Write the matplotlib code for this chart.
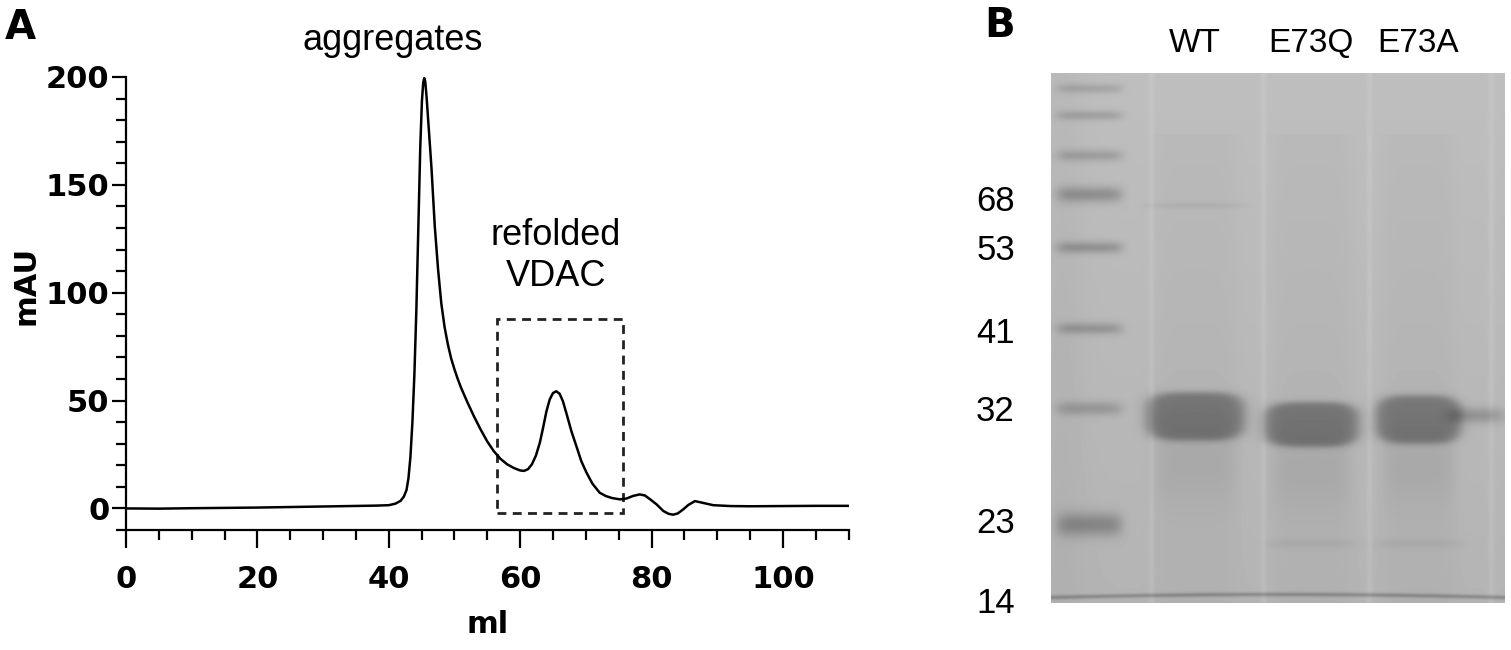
import numpy as np
import matplotlib
matplotlib.use("Agg")
import matplotlib.pyplot as plt
from matplotlib.patches import Rectangle
from matplotlib.ticker import MultipleLocator

# --- panel A: size exclusion chromatogram ---
elution_ml = [0, 5, 10, 20, 30, 38, 40, 41, 41.8, 42.3, 42.7, 43.0, 43.3, 43.6,
              43.9, 44.2, 44.5, 44.8, 45.05, 45.25, 45.4, 45.55, 45.75, 46.0,
              46.5, 47.0, 47.5, 48.0, 48.5, 49.0, 49.5, 50.0, 50.5, 51, 52, 53,
              54, 55, 56, 57, 58, 59, 60, 60.6, 61.2, 61.8, 62.4, 63, 63.5, 64,
              64.5, 65, 65.5, 66, 66.5, 67.1, 67.8, 68.6, 69.3, 70.1, 71, 72.1,
              73, 74, 75.2, 76.2, 77.2, 78.2, 79.0, 79.8, 80.8, 81.8, 82.6, 83.3,
              84.0, 84.8, 85.6, 86.6, 87.5, 89.4, 92, 95, 100, 105, 110]
absorbance_mau = [0, -0.1, 0.1, 0.4, 0.9, 1.3, 1.5, 2.2, 3.5, 5.5, 8.5, 14, 24, 40,
                  62, 92, 130, 168, 189, 197.5, 199.5, 198, 191, 180,
                  158, 131, 111, 95, 84, 76, 69.5, 64.5, 60, 56, 49, 42.5,
                  36.5, 31, 26.5, 23, 20.5, 18.8, 17.6, 17.4, 18.2, 20.5, 24.5, 30.5, 37.5, 45,
                  50.5, 53.5, 54.3, 53.2, 49.8, 43.5, 35.8, 28.5, 22, 16.6, 11.5, 7.3,
                  5.8, 4.8, 4.2, 4.6, 5.8, 6.5, 6.0, 4.2, 1.8, -1.2, -2.5, -2.9,
                  -2.3, -0.5, 1.6, 3.4, 2.8, 1.5, 1.1, 1.0, 1.1, 1.2, 1.2]
pool_ml = [56.5, 75.7]
pool_mau = [-2, 88]

# --- panel B: SDS gel ---
marker_kda = [68, 53, 41, 32, 23, 14]
marker_label_y = [125, 174, 257, 335, 447, 527]
ladder_band_y = [15, 42, 82, 121, 174, 255, 335, 451]
ladder_band_dark = [24, 28, 30, 44, 40, 36, 32, 48]
ladder_band_thick = [5, 5, 6, 8, 6, 6, 7, 12]
lane_names = ["WT", "E73Q", "E73A"]
lane_centers = [144, 260, 367]
lane_halfwidth = [53, 51, 46]
main_band_y = [343, 351, 346]
main_band_half = [26, 24, 26]
main_band_dark = [62, 62, 60]
lane_streak_x = [100, 212, 318, 440]

W, H = 454, 530

plt.rcParams['font.family'] = ['DejaVu Sans']
fig = plt.figure(figsize=(15.11, 6.5), dpi=100)

# ---------------- panel A ----------------
ax = fig.add_axes([126 / 1511, 1 - 530 / 650, 722.6 / 1511, 453 / 650])
ax.plot(elution_ml, absorbance_mau, color='black', lw=1.8, solid_joinstyle='round')
ax.add_patch(Rectangle((pool_ml[0], pool_mau[0]), pool_ml[1] - pool_ml[0],
                       pool_mau[1] - pool_mau[0], fill=False, ec='#222222',
                       lw=2.0, ls=(0, (3.2, 2.3))))
ax.set_xlim(0, 110)
ax.set_ylim(-10, 200)
ax.xaxis.set_major_locator(MultipleLocator(20))
ax.xaxis.set_minor_locator(MultipleLocator(5))
ax.yaxis.set_major_locator(MultipleLocator(50))
ax.yaxis.set_minor_locator(MultipleLocator(10))
for s in ['top', 'right']:
    ax.spines[s].set_visible(False)
for s in ['left', 'bottom']:
    ax.spines[s].set_linewidth(1.6)
ax.tick_params(axis='x', which='major', length=13, width=1.6, pad=12, labelsize=22)
ax.tick_params(axis='x', which='minor', length=7, width=1.6)
ax.tick_params(axis='y', which='major', length=10, width=1.6, pad=2, labelsize=22)
ax.tick_params(axis='y', which='minor', length=7, width=1.6)
for lab in ax.get_xticklabels() + ax.get_yticklabels():
    lab.set_fontweight('bold')
ax.set_xlabel('ml', fontsize=22, fontweight='bold', labelpad=12)
ax.set_ylabel('mAU', fontsize=22, fontweight='bold')
ax.yaxis.set_label_coords(-0.118, 0.54)

ann = dict(family=['Liberation Sans', 'DejaVu Sans'], fontsize=26,
           ha='center', va='center', clip_on=False)
ax.text(40.6, 217, 'aggregates', **ann)
ax.text(65.4, 117, 'refolded\nVDAC', linespacing=1.2, **ann)

fig.text(5 / 1511, 1 - 28 / 650, 'A', fontsize=29, fontweight='bold', va='center')
fig.text(984 / 1511, 1 - 26 / 650, 'B', fontsize=29, fontweight='bold', va='center')

# ---------------- panel B ----------------
yy, xx = np.mgrid[0:H, 0:W].astype(float)
img = 190.0 - 10.0 * yy / H
img -= 5.0 * np.exp(-((xx - 10) / 25.0) ** 2)

# ladder lane
lx = np.exp(-((np.abs(xx - 38) / 33.0) ** 6))
for by, bd, bt in zip(ladder_band_y, ladder_band_dark, ladder_band_thick):
    img -= bd * lx * np.exp(-((yy - by) / bt) ** 2)

# sample lanes
for cx, hw, by, hh, bd in zip(lane_centers, lane_halfwidth, main_band_y,
                              main_band_half, main_band_dark):
    dx = (xx - cx) / hw
    dy = (yy - by) / hh
    r = (np.abs(dx) ** 3.5 + np.abs(dy) ** 3.5) ** (1 / 3.5)
    band = 1.0 / (1.0 + np.exp((r - 0.93) / 0.07))
    img -= bd * band
    # smear below the band and faint lane tint
    sx = np.exp(-((np.abs(xx - cx) / (hw * 0.8)) ** 6))
    img -= 10 * sx * np.exp(-((yy - (by + 45)) / 45.0) ** 2)
    img -= 4 * sx * (yy > 60)
# faint high-mass band in WT
img -= 9 * np.exp(-((np.abs(xx - lane_centers[0]) / 50.0) ** 6)) * np.exp(-((yy - 132) / 3.0) ** 2)
# tail of the E73A band to the right edge
img -= 35 * np.exp(-(((xx - 425) / 28.0) ** 2) ** 2) * np.exp(-((yy - 342) / 8.0) ** 2)
# faint low bands near the bottom
for cx in lane_centers[1:]:
    img -= 8 * np.exp(-((np.abs(xx - cx) / 45.0) ** 6)) * np.exp(-((yy - 470) / 5.0) ** 2)

# lighter streaks between lanes
for sxp in lane_streak_x:
    img += 7 * np.exp(-((xx - sxp) / 3.0) ** 2)

# dye front near the bottom
front = 524 + 3 * ((xx - W / 2) / (W / 2)) ** 2 - 3
img -= 40 * np.exp(-((yy - front) / 2.2) ** 2)
img = np.clip(img, 0, 255)

gx = fig.add_axes([1051 / 1511, 1 - 603 / 650, W / 1511, H / 650])
gx.imshow(img, cmap='gray', vmin=0, vmax=255, extent=(0, W, H, 0),
          aspect='auto', interpolation='bilinear')
gx.set_xlim(0, W)
gx.set_ylim(H, 0)
for s in gx.spines.values():
    s.set_visible(False)
gx.set_xticks([])
gx.set_yticks(marker_label_y)
gx.set_yticklabels([str(k) for k in marker_kda],
                   family=['Liberation Sans', 'DejaVu Sans'], fontsize=25)
gx.tick_params(axis='y', length=0, pad=26)
for name, cx in zip(lane_names, lane_centers):
    gx.text(cx, -30, name, family=['Liberation Sans', 'DejaVu Sans'],
            fontsize=24, ha='center', va='center', clip_on=False)

fig.savefig('out.png', dpi=100)
